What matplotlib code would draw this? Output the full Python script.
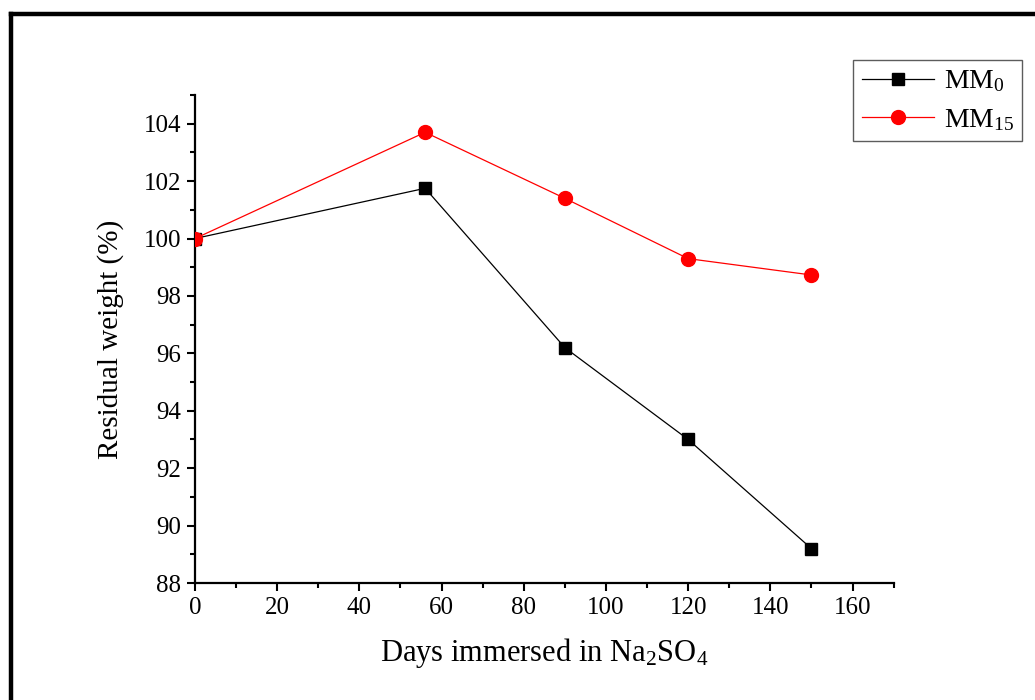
import numpy as np, matplotlib
matplotlib.use("Agg")
import matplotlib.pyplot as plt
from matplotlib.ticker import MultipleLocator
from matplotlib.lines import Line2D

plt.rcParams["font.family"] = ["Liberation Serif", "DejaVu Serif"]
plt.rcParams["mathtext.fontset"] = "custom"
plt.rcParams["mathtext.rm"] = "Liberation Serif"
plt.rcParams["mathtext.it"] = "Liberation Serif:italic"

# Data
days = [0, 56, 90, 120, 150]
mm0 = [100.0, 101.75, 96.2, 93.0, 89.2]
mm15 = [100.0, 103.7, 101.4, 99.3, 98.73]
series_labels = [r"MM$_{\mathregular{0}}$", r"MM$_{\mathregular{15}}$"]

fig = plt.figure(figsize=(10.35, 7), dpi=100)
ax = fig.add_axes([0.1884, 0.1671, 0.675, 0.6972])

ax.plot(days, mm0, color="black", lw=0.9, marker="s", markersize=8.5,
        label=series_labels[0], zorder=3)
ax.plot(days, mm15, color="red", lw=0.9, marker="o", markersize=10,
        label=series_labels[1], zorder=3)

ax.set_xlim(0, 170)
ax.set_ylim(88, 105)
ax.xaxis.set_major_locator(MultipleLocator(20))
ax.xaxis.set_minor_locator(MultipleLocator(10))
ax.yaxis.set_major_locator(MultipleLocator(2))
ax.yaxis.set_minor_locator(MultipleLocator(1))
ax.set_xticks(np.arange(0, 161, 20))
ax.set_yticks(np.arange(88, 105, 2))

for side in ["top", "right"]:
    ax.spines[side].set_visible(False)
for side in ["left", "bottom"]:
    ax.spines[side].set_linewidth(1.6)

ax.tick_params(which="major", direction="out", length=6, width=1.5, labelsize=18, pad=4)
ax.tick_params(which="minor", direction="out", length=3.5, width=1.5)

ax.set_xlabel(r"Days immersed in Na$_{\mathregular{2}}$SO$_{\mathregular{4}}$", fontsize=22, labelpad=12)
ax.set_ylabel("Residual weight (%)", fontsize=21, labelpad=14)

leg = fig.legend(loc="upper right", bbox_to_anchor=(0.9875, 0.914), fontsize=20,
                 handlelength=2.6, frameon=True, fancybox=False, borderpad=0.3,
                 labelspacing=0.45, handletextpad=0.35, borderaxespad=0)
leg.get_frame().set_edgecolor("#333333")
leg.get_frame().set_linewidth(1.0)

# outer frame lines (left and top)
fig.add_artist(Line2D([0.0106, 0.0106], [0, 0.9807], transform=fig.transFigure,
                      color="black", lw=3.2, solid_capstyle="projecting"))
fig.add_artist(Line2D([0.0106, 1.0], [0.9807, 0.9807], transform=fig.transFigure,
                      color="black", lw=3.2, solid_capstyle="projecting"))

fig.savefig("out.png", dpi=100)
